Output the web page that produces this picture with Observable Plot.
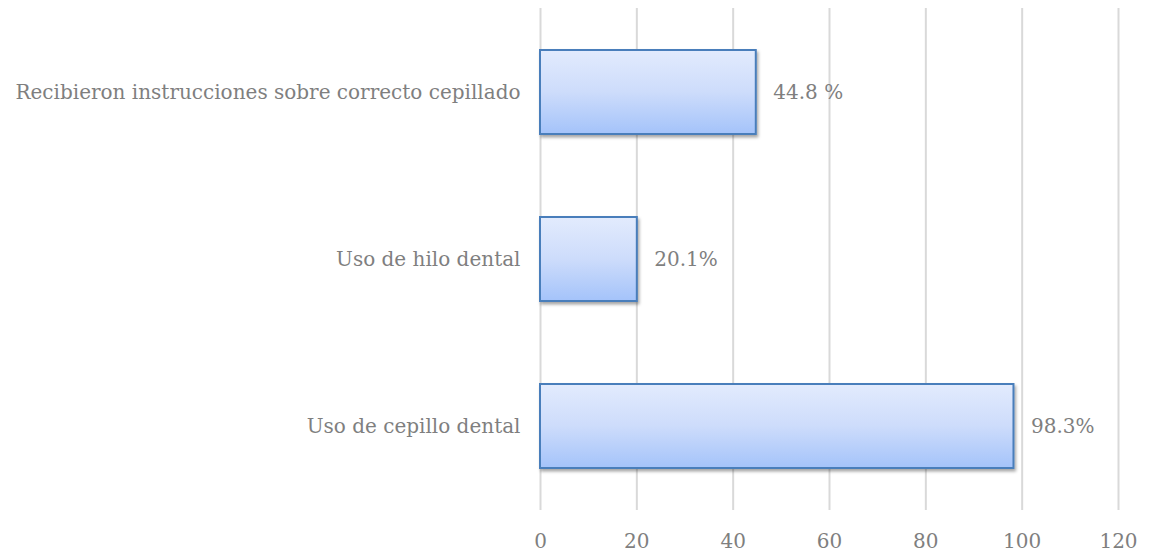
<!DOCTYPE html>
<html>
<head>
<meta charset="utf-8">
<script src="https://cdn.jsdelivr.net/npm/d3@7"></script>
<script src="https://cdn.jsdelivr.net/npm/@observablehq/plot@0.6"></script>
<style>
  html, body { margin: 0; padding: 0; background: #fff; }
  #chart svg { display: block; }
</style>
</head>
<body>
<div id="chart"></div>
<script>
const categories = [
  "Recibieron instrucciones sobre correcto cepillado",
  "Uso de hilo dental",
  "Uso de cepillo dental"
];
const values = [44.8, 20.1, 98.3];
const valueLabels = ["44.8 %", "20.1%", "98.3%"];
const xTicks = [0, 20, 40, 60, 80, 100, 120];

const data = categories.map((c, i) => ({ category: c, value: values[i], label: valueLabels[i] }));

const FONT = "'DejaVu Serif', serif";
const GRAY = "#7f7f7f";

const chart = Plot.plot({
  width: 1150,
  height: 556,
  marginTop: 8,
  marginBottom: 46,
  marginLeft: 540,
  marginRight: 32,
  style: { fontFamily: FONT, fontSize: "20px", color: GRAY, background: "#fff" },
  x: { domain: [0, 120], ticks: xTicks, tickSize: 0, tickPadding: 23, label: null },
  y: { domain: categories, paddingInner: 0.5, paddingOuter: 0.25, tickSize: 0, tickPadding: 20, label: null },
  marks: [
    Plot.gridX(xTicks, { stroke: "#d9d9d9", strokeOpacity: 1, strokeWidth: 2 }),
    Plot.barX(data, {
      x: "value", y: "category",
      fill: "url(#barGrad)", stroke: "#4a7ebb", strokeWidth: 2
    }),
    Plot.text(data, {
      x: "value", y: "category", text: "label",
      dx: 17, textAnchor: "start", fill: GRAY, fontSize: 20
    })
  ]
});

const svg = d3.select(chart);
const defs = svg.insert("defs", ":first-child");
const grad = defs.append("linearGradient")
  .attr("id", "barGrad").attr("x1", 0).attr("y1", 0).attr("x2", 0).attr("y2", 1);
grad.append("stop").attr("offset", "0%").attr("stop-color", "#e2ebfd");
grad.append("stop").attr("offset", "50%").attr("stop-color", "#cddcfb");
grad.append("stop").attr("offset", "100%").attr("stop-color", "#a4c3fa");
const f = defs.append("filter").attr("id", "barShadow")
  .attr("x", "-5%").attr("y", "-10%").attr("width", "115%").attr("height", "130%");
f.append("feDropShadow").attr("dx", 1.5).attr("dy", 2.5).attr("stdDeviation", 1.8)
  .attr("flood-color", "#000").attr("flood-opacity", 0.35);
svg.selectAll("rect").filter(function() { return this.getAttribute("fill") === "url(#barGrad)" || (this.parentNode && this.parentNode.getAttribute("fill") === "url(#barGrad)"); })
  .attr("filter", "url(#barShadow)");

document.getElementById("chart").appendChild(chart);
</script>
</body>
</html>
